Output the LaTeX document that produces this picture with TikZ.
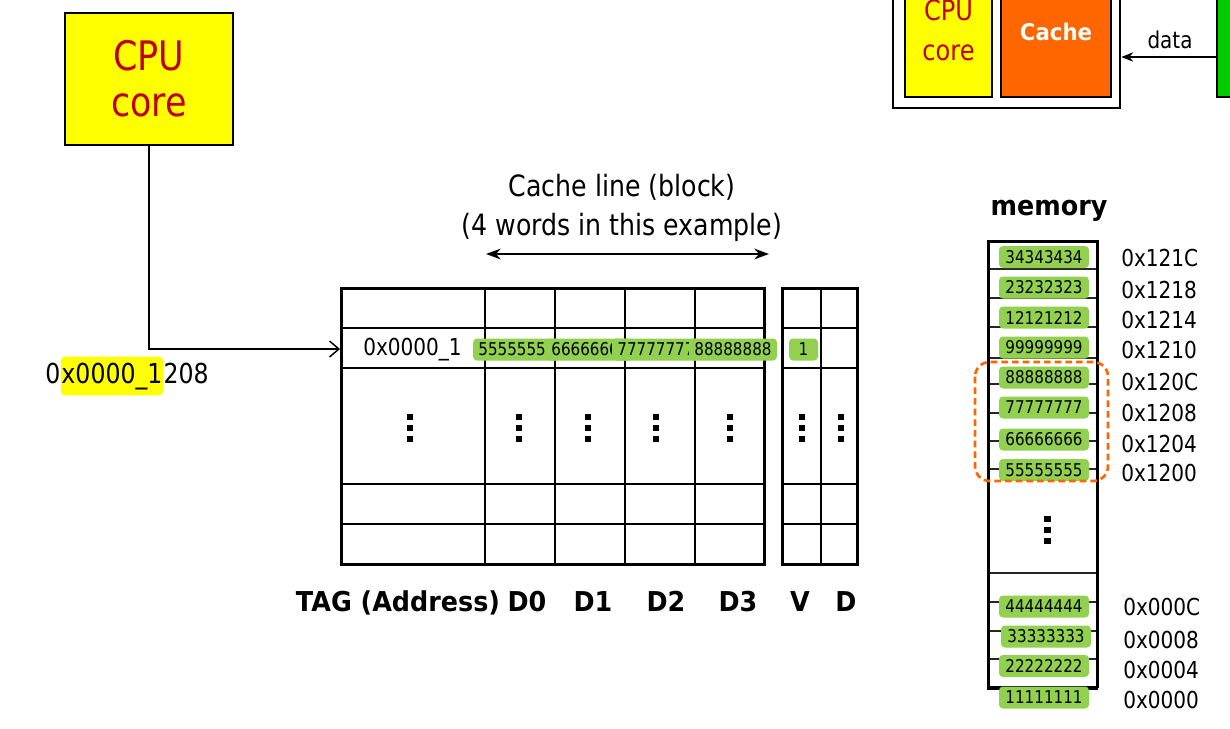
\documentclass[tikz,border=0pt]{standalone}
\usepackage{fontspec}
\setmainfont{DejaVu Sans}[FakeStretch=0.86, BoldFeatures={FakeStretch=0.93}]
\usetikzlibrary{arrows.meta}
\definecolor{cpuyellow}{HTML}{FFFF00}
\definecolor{cpured}{HTML}{C00000}
\definecolor{valgreen}{HTML}{92D050}
\definecolor{cacheorange}{HTML}{FF6600}
\definecolor{busgreen}{HTML}{00CC00}
\newcommand\dotsqat[2]{\foreach \dy in {-11,0,11}{\fill (#1-3,#2+\dy-3) rectangle ++(6,6);}}
\begin{document}
\begin{tikzpicture}[x=0.75pt,y=-0.75pt,
  grid/.style={line width=1.5pt},
  outer/.style={line width=2.25pt},
  memline/.style={line width=1.3pt, black!85},
  val/.style={fill=valgreen, rounded corners=3pt, inner sep=0pt, minimum height=16.5pt,
              minimum width=66pt, font=\fontsize{13.2}{15}\selectfont},
  addr/.style={anchor=west, inner sep=0pt, font=\fontsize{17.5}{20}\selectfont},
  lbl/.style={anchor=base, inner sep=0pt, font=\fontsize{20.5}{24}\selectfont\bfseries},
  blk/.style={draw, line width=1.9pt, inner sep=0pt}]
\useasboundingbox (0,0) rectangle (1230,728);
\clip (0,0) rectangle (1230,728);
\fill[white] (0,0) rectangle (1230,728);

% ---------- top right chip ----------
\node[blk, fill=white, minimum width=170.25pt, minimum height=103.5pt] (chip) at (1006.5,39) {};
\node[blk, fill=cpuyellow, minimum width=65.25pt, minimum height=87.75pt] (scpu) at (948.5,38.5) {};
\node[anchor=base, inner sep=0pt, text=cpured, font=\fontsize{21}{24}\selectfont] (scpu1) at (948.5,20) {CPU};
\node[anchor=base, inner sep=0pt, text=cpured, font=\fontsize{21}{24}\selectfont] (scpu2) at (948.5,60) {core};
\node[blk, fill=cacheorange, minimum width=82.5pt, minimum height=87.75pt] (scache) at (1056,38.5) {};
\node[anchor=base, inner sep=0pt, text=white, font=\fontsize{17.2}{20}\selectfont\bfseries] (scachet) at (1056,40) {Cache};
\node[blk, fill=busgreen, minimum width=21pt, minimum height=87.75pt] (bus) at (1231,38.5) {};
\coordinate (busport) at (1217,57);
\draw[line width=1.1pt, -{Stealth[length=9pt,width=7pt]}] (busport) -- (busport -| chip.east);
\node[anchor=base, inner sep=0pt, font=\fontsize{17.4}{20}\selectfont] (datal) at (1170,48) {data};

% ---------- CPU ----------
\node[blk, fill=cpuyellow, minimum width=126pt, minimum height=99pt, text=cpured,
      align=center, font=\fontsize{30.5}{34.5}\selectfont] (cpu) at (149,79) {CPU\\core};
\coordinate (tagin) at (340,349);
\draw[line width=1.1pt, -{Straight Barb[length=7pt,width=12pt]}] (cpu.south) |- (tagin);

% address
\node[anchor=base west, inner sep=0pt, font=\fontsize{20.6}{24}\selectfont] (a0) at (45,383) {0};
\node[anchor=base west, fill=cpuyellow, rounded corners=3pt, inner xsep=0.5pt, inner ysep=4.5pt,
      font=\fontsize{20.6}{24}\selectfont] (a1) at (a0.base east) {x0000\_1};
\node[anchor=base west, inner sep=0pt, font=\fontsize{20.6}{24}\selectfont] (a2) at (a1.base east) {208};

% ---------- Cache line text ----------
\node[anchor=base, inner sep=0pt, font=\fontsize{22}{26}\selectfont] (cl1) at (622,196) {Cache line (block)};
\node[anchor=base, inner sep=0pt, font=\fontsize{22}{26}\selectfont] (cl2) at (622,235) {(4 words in this example)};
\coordinate (lineL) at (486,254);
\coordinate (lineR) at (769,254);
\draw[line width=1.5pt, {Stealth[length=11pt,width=8pt]}-{Stealth[length=11pt,width=8pt]}] (lineL) -- (lineR);

% ---------- cache table ----------
\foreach \xx in {485,555,625,695} \draw[grid] (\xx,288) -- (\xx,564);
\foreach \yy in {328,368,484,524} \draw[grid] (341,\yy) -- (764,\yy);
\draw[outer] (341,288) rectangle (764,564);
\draw[grid] (821,288) -- (821,564);
\foreach \yy in {328,368,484,524} \draw[grid] (782,\yy) -- (857,\yy);
\draw[outer] (782,288) rectangle (857,564);

\node[addr] (tagval) at (363,350) {0x0000\_1};
\node[val] (c5) at (517,349.5) {55555555};
\node[val] (c6) at (590,349.5) {66666666};
\node[val] (c7) at (656,349.5) {77777777};
\node[val] (c8) at (733,349.5) {88888888};
\node[val, minimum width=21.75pt] (vbit) at (803.5,349.5) {1};

\dotsqat{410}{428}
\dotsqat{519}{428}
\dotsqat{588}{428}
\dotsqat{656}{428}
\dotsqat{730}{428}
\dotsqat{802}{428}
\dotsqat{841}{428}

\node[lbl] (ltag) at (398,611) {TAG (Address)};
\node[lbl] (ld0) at (527,611) {D0};
\node[lbl] (ld1) at (593,611) {D1};
\node[lbl] (ld2) at (666,611) {D2};
\node[lbl] (ld3) at (738,611) {D3};
\node[lbl] (lv) at (800,611) {V};
\node[lbl] (ld) at (846,611) {D};

% ---------- memory ----------
\node[anchor=base, inner sep=0pt, font=\fontsize{20.5}{24}\selectfont\bfseries] (memt) at (1049,215) {memory};
\foreach \yy in {269,298,327,358,384,413,441,469,573,602,631,659} \draw[memline] (988,\yy) -- (1097,\yy);
\draw[outer] (988,688) -- (988,241) -- (1097,241) -- (1097,688);
\draw[line width=2.4pt] (987,688) -- (1098,688);

\node[val, minimum width=67.5pt] (m1) at (1044,257) {34343434};
\node[val, minimum width=67.5pt] (m2) at (1044,287.5) {23232323};
\node[val, minimum width=67.5pt] (m3) at (1044,317.5) {12121212};
\node[val, minimum width=67.5pt] (m4) at (1044,347.5) {99999999};
\node[val, minimum width=67.5pt] (m5) at (1044,377.5) {88888888};
\node[val, minimum width=67.5pt] (m6) at (1044,407.5) {77777777};
\node[val, minimum width=67.5pt] (m7) at (1044,439.5) {66666666};
\node[val, minimum width=67.5pt] (m8) at (1044,470) {55555555};
\node[val, minimum width=67.5pt] (m9) at (1044,606.5) {44444444};
\node[val, minimum width=67.5pt] (m10) at (1046,636.5) {33333333};
\node[val, minimum width=67.5pt] (m11) at (1044,666) {22222222};
\node[val, minimum width=67.5pt] (m12) at (1044,697.5) {11111111};

\fill (1044,516) rectangle ++(7,6);
\fill (1044,527) rectangle ++(7,6);
\fill (1044,538) rectangle ++(7,6);

\draw[cacheorange, line width=2pt, dash pattern=on 5pt off 3pt, rounded corners=11pt] (975,362) rectangle (1108,481);

\node[addr] (ad1) at (1121,258) {0x121C};
\node[addr] (ad2) at (1121,290) {0x1218};
\node[addr] (ad3) at (1121,320) {0x1214};
\node[addr] (ad4) at (1121,350) {0x1210};
\node[addr] (ad5) at (1121,382) {0x120C};
\node[addr] (ad6) at (1121,413) {0x1208};
\node[addr] (ad7) at (1121,444) {0x1204};
\node[addr] (ad8) at (1121,473) {0x1200};
\node[addr] (ad9) at (1123,607) {0x000C};
\node[addr] (ad10) at (1123,640) {0x0008};
\node[addr] (ad11) at (1123,670) {0x0004};
\node[addr] (ad12) at (1123,700) {0x0000};
\end{tikzpicture}
\end{document}
